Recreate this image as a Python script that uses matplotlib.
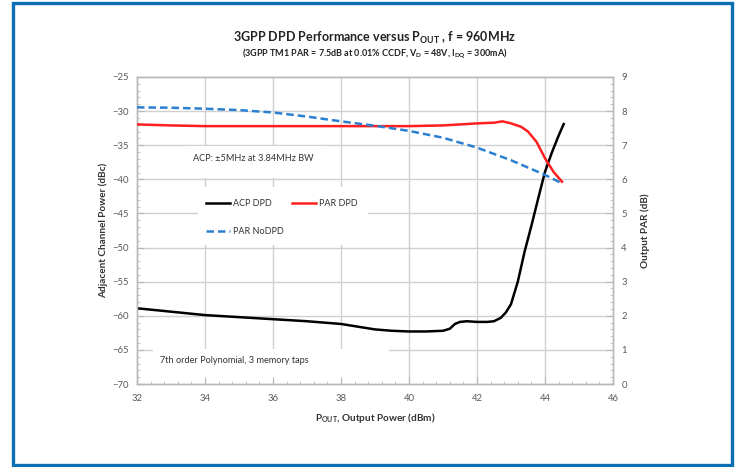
import matplotlib
matplotlib.use('Agg')
import matplotlib.pyplot as plt
from matplotlib.patches import Rectangle
import numpy as np

plt.rcParams['font.family'] = ['Lato', 'DejaVu Sans']
plt.rcParams['mathtext.fontset'] = 'custom'
plt.rcParams['mathtext.rm'] = 'Lato'
plt.rcParams['mathtext.bf'] = 'Lato:bold'

# ACP with DPD (left axis, dBc)
acp_x = [32.0, 33.0, 34.0, 35.0, 36.0, 37.0, 38.0, 38.5, 39.0, 39.5, 40.0,
         40.5, 41.0, 41.2, 41.35, 41.5, 41.7, 42.0, 42.3, 42.5, 42.7, 42.85,
         43.0, 43.2, 43.4, 43.6, 43.8, 44.0, 44.2, 44.4, 44.55]
acp_dpd = [-58.9, -59.4, -59.9, -60.2, -60.5, -60.8, -61.2, -61.6, -62.0,
           -62.2, -62.3, -62.3, -62.2, -61.9, -61.2, -60.9, -60.8, -60.9,
           -60.9, -60.8, -60.3, -59.5, -58.3, -55.0, -50.6, -46.8, -42.8,
           -38.9, -36.1, -33.6, -31.9]

# PAR with / without DPD (right axis, dB)
par_x = [32.0, 33.0, 34.0, 36.0, 38.0, 40.0, 41.0, 41.5, 42.0, 42.5, 42.75,
         43.0, 43.3, 43.5, 43.75, 44.0, 44.25, 44.5]
par_dpd = [7.61, 7.58, 7.56, 7.56, 7.56, 7.56, 7.58, 7.61, 7.64, 7.66, 7.70,
           7.64, 7.54, 7.40, 7.10, 6.62, 6.22, 5.93]
nodpd_x = [32.0, 33.0, 34.0, 35.0, 36.0, 37.0, 38.0, 39.0, 40.0, 41.0, 42.0,
           43.0, 44.0, 44.5]
par_nodpd = [8.11, 8.10, 8.07, 8.03, 7.96, 7.84, 7.70, 7.57, 7.42, 7.22,
             6.93, 6.56, 6.13, 5.88]

x_ticks = np.arange(32, 47, 2)
y_ticks = np.arange(-70, -24, 5)
y2_ticks = np.arange(0, 10, 1)

GRID = '#d0d0d0'
SPINE = '#b8b8b8'
TXT = '#595959'

fig = plt.figure(figsize=(7.35, 4.67), dpi=100)
fig.patch.set_facecolor('white')
ax = fig.add_axes([137/735, 1-384/467, 476/735, 307/467])
ax2 = ax.twinx()

ax.set_xlim(32, 46)
ax.set_ylim(-70, -25)
ax2.set_ylim(0, 9)

# grid drawn by hand so the white text boxes can sit over it
for xv in x_ticks[1:-1]:
    ax.axvline(xv, color=GRID, lw=1.0, zorder=0.5)
for yv in y_ticks[1:-1]:
    ax.axhline(yv, color=GRID, lw=1.0, zorder=0.5)

# white text boxes
ax.add_patch(Rectangle((33.45, -39.75), 4.1, 4.6, fc='white', ec='none', zorder=0.8))
ax.add_patch(Rectangle((33.8, -49.6), 5.0, 8.5, fc='white', ec='none', zorder=0.8))
ax.add_patch(Rectangle((32.47, -69.5), 6.93, 4.65, fc='white', ec='none', zorder=0.8))

l_acp, = ax.plot(acp_x, acp_dpd, color='black', lw=1.8, zorder=3,
                 label='ACP DPD')
l_dpd, = ax2.plot(par_x, par_dpd, color='#ff1f1f', lw=1.8, zorder=3,
                  label='PAR DPD')
l_nodpd, = ax2.plot(nodpd_x, par_nodpd, color='#2a7fd0', lw=1.8, zorder=3,
                    ls=(0, (3, 1.6)), label='PAR NoDPD')

ax.text(33.65, -36.9, 'ACP: \u00b15MHz at 3.84MHz BW', fontsize=6.6,
        color='#333333', va='center', zorder=4)
ax.text(32.68, -66.6, '7th order Polynomial, 3 memory taps', fontsize=6.6,
        color='#333333', va='center', zorder=4)

leg = ax.legend([l_acp, l_nodpd, l_dpd], ['ACP DPD', 'PAR NoDPD', 'PAR DPD'],
                ncol=2, loc='upper left', bbox_to_anchor=(0.145, 0.602),
                frameon=False, fontsize=6.5, handlelength=2.7,
                handletextpad=0.25, columnspacing=0.95, labelspacing=2.05,
                borderpad=0, borderaxespad=0)
for t in leg.get_texts():
    t.set_color('#333333')

# ticks and spines
ax.set_xticks(x_ticks)
ax.set_yticks(y_ticks)
ax2.set_yticks(y2_ticks)
ax.set_xticks(np.arange(32, 46.01, 0.4), minor=True)
ax.set_yticks(np.arange(-70, -24.9, 1), minor=True)
ax2.set_yticks(np.arange(0, 9.01, 0.2), minor=True)
for a in (ax, ax2):
    a.tick_params(which='major', direction='in', length=5, width=0.8,
                  color=SPINE, labelsize=6.8, labelcolor=TXT, pad=6)
    a.tick_params(which='minor', direction='in', length=2.5, width=0.6,
                  color=SPINE)
    for s in a.spines.values():
        s.set_color(SPINE)
        s.set_linewidth(1.0)
ax.tick_params(axis='x', pad=7)

ax.set_xlabel(r'P$_{\mathbf{OUT}}$, Output Power (dBm)', fontsize=7.2,
              fontweight='bold', color='#333333', labelpad=6)
ax.set_ylabel('Adjacent Channel Power (dBc)', fontsize=7.2, fontweight='bold',
              color='#333333')
ax2.set_ylabel('Output PAR (dB)', fontsize=7.2, fontweight='bold',
               color='#333333')
ax.yaxis.set_label_coords(-0.061, 0.5)
ax2.yaxis.set_label_coords(1.057, 0.5)

fig.text(375/735, 1-38/467, r'3GPP DPD Performance versus P$_{\mathbf{OUT}}$ , f = 960MHz',
         ha='center', va='center', fontsize=9, fontweight='bold', color='#222222')
fig.text(375/735, 1-54/467,
         r'(3GPP TM1 PAR = 7.5dB at 0.01% CCDF, V$_{\mathbf{D}}$ = 48V, I$_{\mathbf{DQ}}$ = 300mA)',
         ha='center', va='center', fontsize=6.5, fontweight='bold', color='#222222')

# blue outer frame
fig.patches.append(Rectangle((12.5/735, 1-465/467), 719/735, 462/467,
                             transform=fig.transFigure, fill=False,
                             ec='#0b70b3', lw=2.4))

fig.savefig('out.png', dpi=100, facecolor='white')
